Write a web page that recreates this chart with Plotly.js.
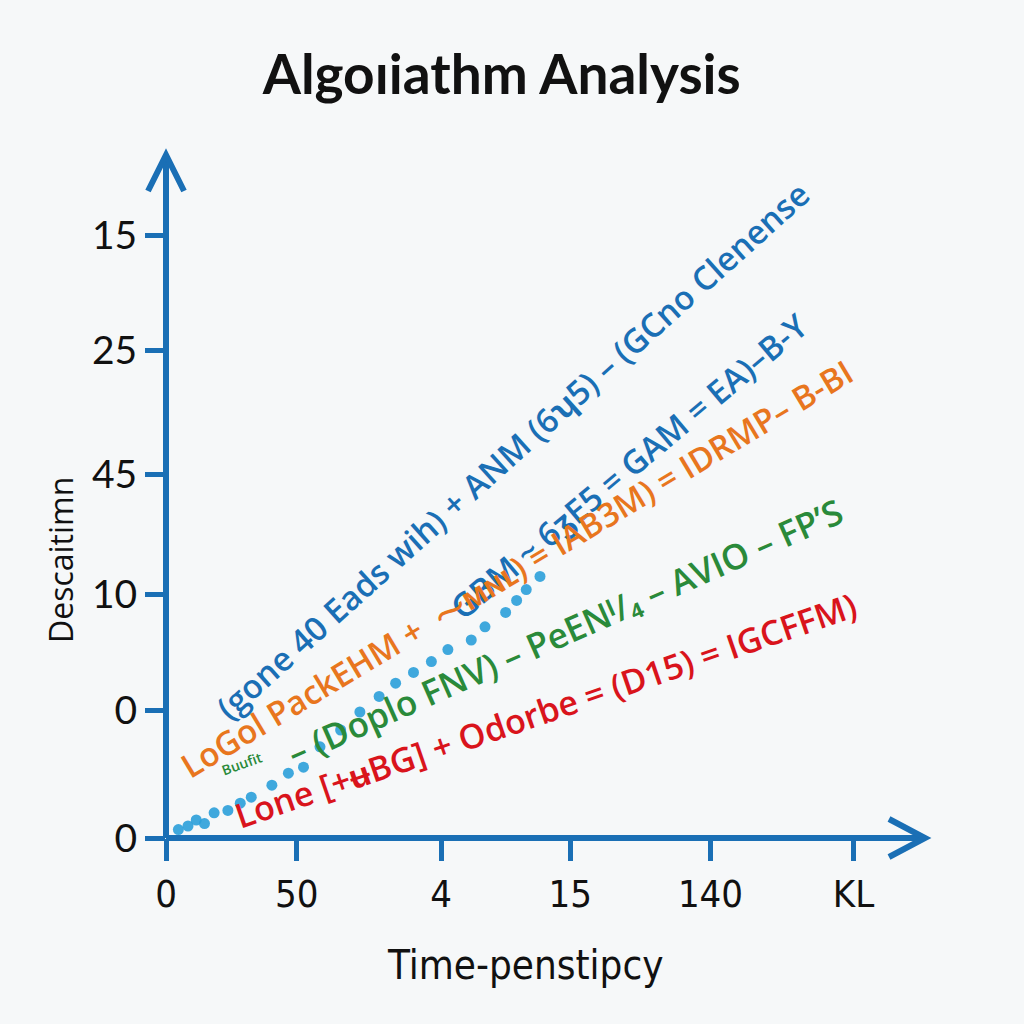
<!DOCTYPE html>
<html>
<head>
<meta charset="utf-8">
<script src="https://cdn.plot.ly/plotly-3.0.1.min.js"></script>
<style>
  html, body { margin: 0; padding: 0; background: #f6f8f9; }
  #chart { width: 1024px; height: 1024px; }
</style>
</head>
<body>
<div id="chart"></div>
<script>
// Tick positions and labels as they appear on the picture
const xTickVals = [0, 0.95, 2.0, 2.94, 3.96, 5.0];
const xTickText = ['0', '50', '4', '15', '140', 'KL'];
const yTickVals = [0, 1.06, 2.03, 3.03, 4.06, 5.02];
const yTickText = ['0', '0', '10', '45', '25', '15'];

// Blue dotted series
const dotX = [0.09, 0.16, 0.22, 0.28, 0.35, 0.45, 0.54, 0.62, 0.77, 0.89, 1.00, 1.12, 1.27,
              1.41, 1.55, 1.67, 1.80, 1.93, 2.05, 2.22, 2.32, 2.47, 2.55, 2.62, 2.72];
const dotY = [0.07, 0.10, 0.15, 0.12, 0.21, 0.23, 0.29, 0.34, 0.44, 0.54, 0.59, 0.76, 0.90,
              1.05, 1.18, 1.29, 1.38, 1.47, 1.57, 1.65, 1.76, 1.88, 1.98, 2.07, 2.18];

// Line labels drawn along the slopes
const labelText = [
    '(gone 40 Eads wih) + ANM (6ʮ5) – (GCno Clenense',
    'GBM ~ 6ʒE5 = GAM = EA)–B-Y',
    'LoGol PackEHM +  ⁓ᴍɴʟ) = IAB3M) = IDRMP– B-BI',
    '– (Doplo FNV) – PeENᴵ/₄ – AVIO – FP’S',
    'Buufit',
    'Lone [+ʉBG] + Odorbe = (D15) = IGCFFM)'
];
const labelX = [2.52, 3.36, 2.55, 2.90, 0.55, 2.76];
const labelY = [3.23, 3.10, 2.25, 1.72, 0.62, 1.07];
const labelAngle = [-42, -40, -31, -24, -20, -19];
const labelColor = ['#1a6fb5', '#1a6fb5', '#e8761e', '#2a8a3a', '#2a8a3a', '#d9141c'];
const labelSize = [33, 33, 33, 35, 14, 34];

const AXIS = '#1a6fb5';
const PLOT_W = 759, PLOT_H = 683;

const traces = [{
    x: dotX,
    y: dotY,
    mode: 'markers',
    type: 'scatter',
    marker: { color: '#2b9fd9', size: 11, opacity: 0.9 },
    hoverinfo: 'skip'
}];

const annotations = labelText.map((t, i) => ({
    x: labelX[i],
    y: labelY[i],
    xref: 'x',
    yref: 'y',
    text: t,
    showarrow: false,
    textangle: labelAngle[i],
    font: { family: 'Open Sans, sans-serif', size: labelSize[i], color: labelColor[i], weight: 600 }
}));

// axis titles sit a little off-centre in the picture, so they are annotations
annotations.push({
    xref: 'paper', yref: 'paper',
    x: -106 / PLOT_W, y: 278 / PLOT_H,
    xanchor: 'center', yanchor: 'middle',
    text: 'Descaitimn',
    showarrow: false,
    textangle: -90,
    font: { family: 'Open Sans, sans-serif', size: 32, color: '#111' }
});
annotations.push({
    xref: 'paper', yref: 'paper',
    x: 359 / PLOT_W, y: -127 / PLOT_H,
    xanchor: 'center', yanchor: 'middle',
    text: 'Time-penstipcy',
    showarrow: false,
    font: { family: 'Liberation Sans Narrow, DejaVu Sans Condensed, sans-serif', size: 40, color: '#111' }
});

// open chevron arrowheads at the ends of both axes (paper coords)
function px2paper(dx, dy) {
    return [dx / PLOT_W, dy / PLOT_H];
}
const [ax1, ay1] = px2paper(18, 36);
const [bx1, by1] = px2paper(36, 19);

const shapes = [
    {
        type: 'line', xref: 'paper', yref: 'paper',
        x0: 0, y0: 0, x1: 0, y1: 1,
        line: { color: AXIS, width: 6 }
    },
    {
        type: 'line', xref: 'paper', yref: 'paper',
        x0: 0, y0: 0, x1: 1, y1: 0,
        line: { color: AXIS, width: 6 }
    },
    {
        type: 'path', xref: 'paper', yref: 'paper',
        path: `M ${-ax1},${1 - ay1} L 0,1 L ${ax1},${1 - ay1}`,
        line: { color: AXIS, width: 6 }
    },
    {
        type: 'path', xref: 'paper', yref: 'paper',
        path: `M ${1 - bx1},${by1} L 1,0 L ${1 - bx1},${-by1}`,
        line: { color: AXIS, width: 6 }
    }
];

const layout = {
    width: 1024,
    height: 1024,
    paper_bgcolor: '#f6f8f9',
    plot_bgcolor: 'rgba(0,0,0,0)',
    showlegend: false,
    margin: { l: 166, r: 99, t: 155, b: 186 },
    title: {
        text: '<b>Algoıiathm Analysis</b>',
        x: 0.49,
        xanchor: 'center',
        y: 0.927,
        yanchor: 'middle',
        yref: 'container',
        font: { family: 'Lato, Open Sans, sans-serif', size: 55, color: '#111' }
    },
    xaxis: {
        range: [0, PLOT_W / 137.5],
        tickvals: xTickVals,
        ticktext: xTickText,
        ticks: 'outside',
        ticklen: 22,
        tickwidth: 5,
        tickcolor: AXIS,
        showgrid: false,
        zeroline: false,
        showline: false,
        fixedrange: true,
        tickfont: { family: 'Liberation Sans Narrow, DejaVu Sans Condensed, sans-serif', size: 38, color: '#111' }
    },
    yaxis: {
        range: [0, PLOT_H / 120],
        tickvals: yTickVals,
        ticktext: yTickText,
        ticks: 'outside',
        ticklen: 20,
        tickwidth: 5,
        tickcolor: AXIS,
        showgrid: false,
        zeroline: false,
        showline: false,
        fixedrange: true,
        tickfont: { family: 'Lato, Open Sans, sans-serif', size: 39, color: '#111' }
    },
    annotations: annotations,
    shapes: shapes
};

Plotly.newPlot('chart', traces, layout, { displayModeBar: false, staticPlot: true });
</script>
</body>
</html>
